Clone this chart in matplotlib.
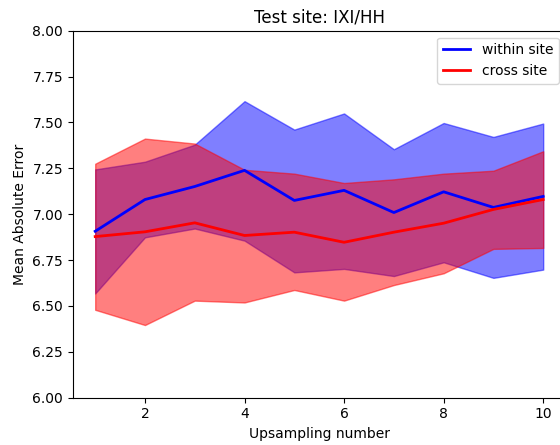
import matplotlib
matplotlib.use("Agg")
import matplotlib.pyplot as plt

upsampling = [1, 2, 3, 4, 5, 6, 7, 8, 9, 10]
within_mean = [6.907, 7.080, 7.151, 7.239, 7.075, 7.130, 7.009, 7.122, 7.037, 7.097]
within_low = [6.568, 6.874, 6.922, 6.856, 6.683, 6.702, 6.663, 6.738, 6.653, 6.698]
within_high = [7.244, 7.286, 7.379, 7.616, 7.461, 7.549, 7.354, 7.497, 7.421, 7.494]
cross_mean = [6.878, 6.904, 6.953, 6.884, 6.902, 6.847, 6.902, 6.951, 7.026, 7.080]
cross_low = [6.479, 6.396, 6.529, 6.519, 6.587, 6.529, 6.614, 6.678, 6.811, 6.816]
cross_high = [7.275, 7.412, 7.385, 7.242, 7.221, 7.170, 7.190, 7.221, 7.237, 7.343]

fig = plt.figure(figsize=(5.6, 4.45), dpi=100)
ax = fig.add_axes([0.13, 0.1063, 0.880, 0.8247])

ax.fill_between(upsampling, within_low, within_high, color="blue", alpha=0.5)
ax.fill_between(upsampling, cross_low, cross_high, color="red", alpha=0.5)
ax.plot(upsampling, within_mean, color="blue", lw=2, label="within site")
ax.plot(upsampling, cross_mean, color="red", lw=2, label="cross site")

ax.set_ylim(6.0, 8.0)
ax.set_xlabel("Upsampling number")
ax.set_ylabel("Mean Absolute Error")
ax.set_title("Test site: IXI/HH")
ax.legend(loc="upper right")

fig.savefig("out.png", dpi=100)
